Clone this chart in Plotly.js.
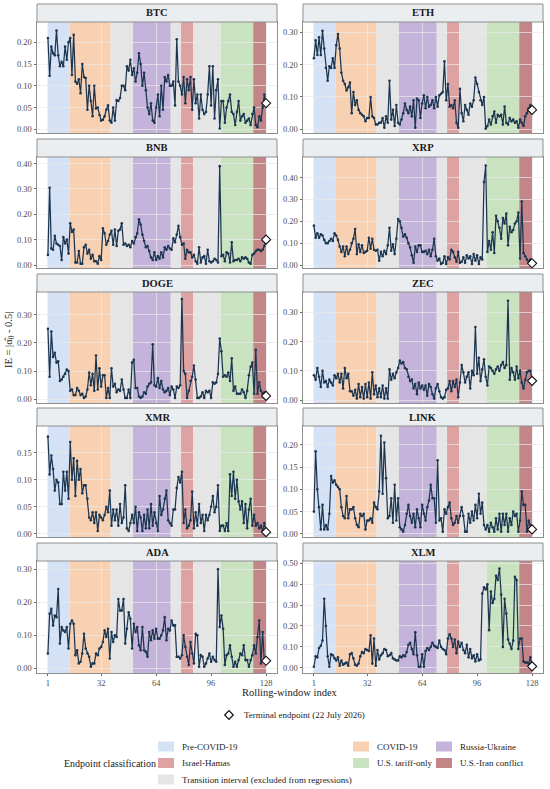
<!DOCTYPE html>
<html>
<head>
<meta charset="utf-8">
<script src="https://cdn.plot.ly/plotly-3.0.1.min.js"></script>
<style>
html,body{margin:0;padding:0;background:#ffffff;}
#chart{width:550px;height:789px;}
</style>
</head>
<body>
<div id="chart"></div>
<script>
// ---------------- DATA ----------------
const coins = ['BTC','ETH','BNB','XRP','DOGE','ZEC','XMR','LINK','ADA','XLM'];
const xTickLabels = [1, 32, 64, 96, 128];
const terminalLabel = 'Terminal endpoint (22 July 2026)';

// Endpoint-classification intervals on the rolling-window index
const regionClass = ['Pre-COVID-19','COVID-19','Transition','Russia-Ukraine','Transition','Israel-Hamas','Transition','U.S. tariff-only','U.S.-Iran conflict'];
const regionStart = [1, 13.5, 37.5, 50.5, 72.5, 78.5, 85.5, 101.5, 120.5];
const regionEnd   = [13.5, 37.5, 50.5, 72.5, 78.5, 85.5, 101.5, 120.5, 128];

const ieBTC = [
 0.21,0.123,0.19,0.175,0.17,0.227,0.17,0.145,0.155,0.145,0.19,0.16,0.20,
 0.21,0.125,0.217,0.11,0.105,0.115,0.083,0.15,0.12,0.118,0.045,0.10,0.065,0.03,0.10,0.048,0.05,0.033,0.02,0.022,0.03,0.045,0.055,0.02,
 0.015,0.05,0.02,0.067,0.065,0.072,0.10,0.10,0.09,0.145,0.135,0.16,0.125,
 0.14,0.11,0.13,0.175,0.15,0.10,0.13,0.09,0.05,0.035,0.06,0.02,0.015,0.05,0.08,0.03,0.10,0.045,0.12,0.11,0.125,0.10,
 0.10,0.11,0.055,0.207,0.11,0.10,
 0.08,0.12,0.06,0.115,0.09,0.12,0.045,
 0.115,0.06,0.08,0.025,0.08,0.045,0.035,0.04,0.08,0.145,0.055,0.145,0.025,0.09,0.115,0.002,
 0.065,0.065,0.015,0.05,0.065,0.08,0.04,0.035,0.01,0.04,0.065,0.02,0.03,0.035,0.015,0.02,0.025,0.01,0.035,
 0.05,0.01,0.005,0.03,0.02,0.05,0.08,0.06];
const ieETH = [
 0.22,0.275,0.23,0.285,0.23,0.305,0.25,0.19,0.15,0.195,0.19,0.22,0.19,
 0.26,0.295,0.25,0.175,0.15,0.14,0.12,0.13,0.145,0.05,0.115,0.075,0.09,0.06,0.05,0.045,0.04,0.025,0.035,0.035,0.10,0.04,0.035,0.015,
 0.015,0.02,0.02,0.035,0.005,0.04,0.02,0.15,0.03,0.06,0.01,0.075,0.02,
 0.015,0.03,0.05,0.08,0.06,0.05,0.07,0.04,0.09,0.005,0.095,0.09,0.035,0.08,0.105,0.065,0.10,0.07,0.075,0.09,0.065,0.10,
 0.07,0.105,0.11,0.115,0.21,0.09,
 0.14,0.07,0.075,0.065,0.09,0.02,0.005,
 0.125,0.05,0.025,0.075,0.06,0.045,0.08,0.07,0.09,0.16,0.14,0.115,0.09,0.075,0.10,0.002,
 0.01,0.03,0.015,0.04,0.055,0.02,0.045,0.04,0.045,0.015,0.07,0.02,0.015,0.035,0.025,0.03,0.02,0.025,0.005,
 0.03,0.02,0.01,0.04,0.05,0.065,0.075,0.06];
const ieBNB = [
 0.04,0.305,0.065,0.06,0.115,0.085,0.08,0.075,0.02,0.11,0.085,0.10,0.045,
 0.165,0.13,0.14,0.01,0.01,0.055,0.005,0.005,0.07,0.08,0.045,0.06,0.025,0.04,0.015,0.015,0.005,0.035,0.02,0.145,0.125,0.08,0.095,0.12,
 0.135,0.08,0.14,0.075,0.135,0.14,0.165,0.08,0.085,0.075,0.08,0.07,0.095,
 0.085,0.11,0.125,0.18,0.16,0.12,0.095,0.07,0.075,0.055,0.03,0.02,0.05,0.02,0.035,0.025,0.05,0.03,0.07,0.06,0.075,0.065,
 0.06,0.105,0.09,0.12,0.155,0.11,
 0.08,0.085,0.025,0.06,0.05,0.05,0.03,
 0.04,0.015,0.005,0.07,0.01,0.03,0.035,0.005,0.06,0.015,0.01,0.015,0.025,0.02,0.01,0.39,
 0.035,0.04,0.015,0.05,0.045,0.01,0.09,0.015,0.02,0.02,0.025,0.015,0.03,0.025,0.03,0.025,0.01,0.005,0.04,
 0.045,0.055,0.06,0.06,0.055,0.06,0.075,0.10];
const ieXRP = [
 0.18,0.125,0.145,0.125,0.14,0.135,0.115,0.10,0.10,0.11,0.12,0.11,0.145,
 0.135,0.115,0.085,0.06,0.085,0.04,0.085,0.05,0.07,0.10,0.12,0.165,0.05,0.095,0.06,0.09,0.055,0.06,0.065,0.125,0.075,0.12,0.07,0.065,
 0.07,0.02,0.06,0.04,0.065,0.05,0.09,0.17,0.065,0.095,0.05,0.12,0.21,
 0.20,0.17,0.13,0.14,0.125,0.10,0.08,0.045,0.01,0.085,0.06,0.09,0.09,0.06,0.06,0.065,0.05,0.07,0.04,0.07,0.12,0.04,
 0.02,0.03,0.005,0.01,0.04,0.005,
 0.035,0.025,0.07,0.06,0.035,0.015,0.06,
 0.01,0.015,0.035,0.01,0.045,0.03,0.04,0.005,0.05,0.02,0.045,0.005,0.035,0.025,0.38,0.455,
 0.06,0.11,0.07,0.15,0.055,0.225,0.20,0.17,0.12,0.215,0.19,0.235,0.09,0.175,0.15,0.16,0.19,0.20,0.24,
 0.03,0.29,0.055,0.04,0.025,0.015,0.025,0.008];
const ieDOGE = [
 0.25,0.08,0.24,0.15,0.165,0.13,0.135,0.065,0.07,0.08,0.09,0.105,0.10,
 0.03,0.035,0.015,0.015,0.04,0.03,0.015,0.02,0.005,0.01,0.035,0.095,0.05,0.09,0.03,0.155,0.035,0.11,0.045,0.085,0.085,0.005,0.04,0.005,
 0.11,0.045,0.055,0.025,0.035,0.03,0.07,0.035,0.005,0.005,0.035,0.005,0.13,
 0.14,0.04,0.04,0.01,0.005,0.01,0.025,0.02,0.045,0.055,0.06,0.195,0.05,0.045,0.075,0.04,0.065,0.035,0.025,0.03,0.04,0.015,
 0.045,0.035,0.005,0.045,0.04,0.05,
 0.355,0.10,0.09,0.005,0.03,0.065,0.08,
 0.12,0.07,0.005,0.005,0.01,0.025,0.005,0.03,0.025,0.03,0.005,0.06,0.055,0.06,0.09,0.215,
 0.17,0.08,0.085,0.08,0.095,0.065,0.145,0.03,0.045,0.02,0.02,0.02,0.035,0.025,0.005,0.03,0.085,0.115,0.13,
 0.02,0.175,0.02,0.06,0.03,0.02,0.025,0.012];
const ieZEC = [
 0.085,0.07,0.11,0.08,0.045,0.10,0.06,0.065,0.045,0.07,0.06,0.05,0.085,
 0.075,0.09,0.06,0.09,0.04,0.11,0.075,0.09,0.03,0.03,0.015,0.035,0.005,0.055,0.01,0.045,0.005,0.055,0.01,0.06,0.005,0.095,0.02,0.05,
 0.01,0.04,0.01,0.05,0.005,0.04,0.005,0.105,0.07,0.09,0.075,0.095,0.11,
 0.135,0.125,0.13,0.11,0.105,0.08,0.065,0.07,0.04,0.055,0.02,0.06,0.04,0.05,0.035,0.05,0.015,0.055,0.045,0.02,0.005,0.04,
 0.055,0.03,0.01,0.005,0.01,0.035,
 0.04,0.065,0.03,0.065,0.045,0.07,0.01,
 0.06,0.12,0.095,0.06,0.08,0.095,0.04,0.10,0.085,0.25,0.09,0.145,0.065,0.105,0.14,0.08,
 0.05,0.115,0.11,0.10,0.09,0.105,0.115,0.10,0.12,0.13,0.11,0.12,0.34,0.07,0.11,0.095,0.07,0.115,0.075,
 0.10,0.06,0.04,0.07,0.095,0.10,0.10,0.066];
const ieXMR = [
 0.18,0.11,0.145,0.12,0.08,0.10,0.095,0.055,0.055,0.115,0.08,0.115,0.065,
 0.17,0.10,0.14,0.07,0.135,0.10,0.12,0.075,0.09,0.09,0.065,0.03,0.025,0.04,0.02,0.04,0.005,0.035,0.03,0.025,0.035,0.05,0.04,0.08,
 0.015,0.045,0.025,0.045,0.015,0.055,0.02,0.03,0.09,0.01,0.005,0.02,0.035,
 0.02,0.05,0.005,0.04,0.03,0.005,0.035,0.01,0.045,0.01,0.055,0.015,0.04,0.02,0.005,0.07,0.035,0.045,0.065,0.08,0.025,0.02,
 0.015,0.045,0.045,0.085,0.105,0.095,
 0.115,0.02,0.045,0.01,0.015,0.025,0.078,
 0.01,0.04,0.015,0.055,0.02,0.035,0.005,0.035,0.025,0.035,0.05,0.07,0.04,0.05,0.09,0.005,
 0.015,0.015,0.005,0.02,0.005,0.11,0.07,0.115,0.065,0.10,0.06,0.045,0.06,0.02,0.055,0.01,0.045,0.065,0.015,
 0.035,0.015,0.02,0.01,0.015,0.005,0.02,0.003];
const ieLINK = [
 0.05,0.185,0.10,0.06,0.01,0.065,0.01,0.02,0.01,0.045,0.13,0.115,0.12,
 0.11,0.105,0.10,0.06,0.04,0.035,0.085,0.035,0.055,0.055,0.06,0.035,0.02,0.015,0.045,0.04,0.045,0.01,0.03,0.03,0.035,0.025,0.07,0.06,
 0.055,0.095,0.22,0.09,0.205,0.125,0.035,0.04,0.08,0.025,0.11,0.03,0.08,
 0.015,0.01,0.005,0.02,0.045,0.065,0.04,0.025,0.045,0.015,0.055,0.035,0.015,0.065,0.045,0.03,0.06,0.075,0.11,0.08,0.08,0.025,
 0.165,0.03,0.035,0.005,0.055,0.045,
 0.06,0.07,0.035,0.02,0.025,0.04,0.025,
 0.04,0.06,0.04,0.005,0.005,0.045,0.025,0.05,0.03,0.065,0.035,0.09,0.045,0.07,0.02,0.01,
 0.02,0.005,0.025,0.015,0.005,0.035,0.01,0.045,0.005,0.045,0.02,0.045,0.005,0.035,0.02,0.05,0.04,0.045,0.005,
 0.03,0.095,0.065,0.065,0.005,0.03,0.02,0.01];
const ieADA = [
 0.045,0.165,0.18,0.13,0.16,0.155,0.24,0.075,0.125,0.115,0.11,0.125,0.06,
 0.135,0.145,0.135,0.04,0.055,0.015,0.02,0.045,0.105,0.06,0.045,0.035,0.005,0.015,0.015,0.045,0.04,0.06,0.065,0.08,0.115,0.095,0.12,0.03,
 0.11,0.08,0.10,0.095,0.21,0.175,0.175,0.21,0.075,0.12,0.17,0.15,0.06,
 0.135,0.11,0.125,0.07,0.055,0.125,0.055,0.05,0.035,0.11,0.085,0.115,0.09,0.12,0.09,0.09,0.10,0.115,0.155,0.085,0.12,0.115,
 0.145,0.13,0.13,0.035,0.035,0.03,
 0.04,0.10,0.065,0.035,0.01,0.08,0.045,
 0.015,0.105,0.10,0.005,0.04,0.035,0.005,0.015,0.03,0.045,0.02,0.035,0.025,0.02,0.30,0.125,
 0.16,0.12,0.01,0.04,0.045,0.07,0.035,0.005,0.02,0.005,0.025,0.045,0.04,0.07,0.025,0.025,0.005,0.025,0.04,
 0.07,0.045,0.095,0.145,0.015,0.11,0.02,0.023];
const ieXLM = [
 0.005,0.055,0.05,0.095,0.105,0.13,0.33,0.20,0.055,0.005,0.065,0.06,0.045,
 0.035,0.05,0.01,0.035,0.015,0.02,0.025,0.01,0.065,0.07,0.045,0.015,0.01,0.02,0.055,0.075,0.07,0.09,0.085,0.08,0.155,0.02,0.14,0.01,
 0.085,0.04,0.06,0.07,0.09,0.085,0.055,0.06,0.07,0.045,0.04,0.035,0.035,
 0.055,0.05,0.06,0.055,0.075,0.11,0.12,0.09,0.065,0.17,0.06,0.005,0.005,0.065,0.005,0.08,0.095,0.085,0.10,0.12,0.105,0.10,
 0.095,0.13,0.10,0.09,0.085,0.065,
 0.14,0.16,0.14,0.10,0.135,0.07,0.125,
 0.10,0.12,0.085,0.07,0.11,0.05,0.09,0.045,0.06,0.03,0.065,0.035,0.04,0.355,0.385,0.375,
 0.40,0.18,0.365,0.31,0.33,0.44,0.42,0.475,0.35,0.10,0.33,0.26,0.135,0.115,0.09,0.13,0.435,0.42,0.09,
 0.14,0.14,0.03,0.025,0.025,0.02,0.05,0.007];

const seriesByCoin = {BTC:ieBTC, ETH:ieETH, BNB:ieBNB, XRP:ieXRP, DOGE:ieDOGE, ZEC:ieZEC, XMR:ieXMR, LINK:ieLINK, ADA:ieADA, XLM:ieXLM};

// legend entries (order as in the reference grid)
const legendItems = [
  ['Pre-COVID-19',0,0], ['COVID-19',1,0], ['Russia-Ukraine',2,0],
  ['Israel-Hamas',0,1], ['U.S. tariff-only',1,1], ['U.S.-Iran conflict',2,1],
  ['Transition interval (excluded from regressions)',0,2]
];

// ---------------- STYLE / LAYOUT ----------------
const W = 550, H = 789;
const FONT = 'Liberation Serif, Times New Roman, serif';
const classColor = {
  'Pre-COVID-19':'#D5E2F5',
  'COVID-19':'#F8D1B3',
  'Transition':'#E5E5E6',
  'Transition interval (excluded from regressions)':'#E5E5E6',
  'Russia-Ukraine':'#C4B3DB',
  'Israel-Hamas':'#DDA2A2',
  'U.S. tariff-only':'#C9E2BF',
  'U.S.-Iran conflict':'#C48589'
};
const yRange = {
  BTC:[-0.0085,0.2467], ETH:[-0.0115,0.332], BNB:[-0.0117,0.426], XRP:[-0.0136,0.494],
  DOGE:[-0.013,0.38], ZEC:[-0.01,0.37], XMR:[-0.006,0.1997], LINK:[-0.007,0.242],
  ADA:[-0.014,0.325], XLM:[-0.025,0.511]
};
const yStep = {BTC:0.05, ETH:0.1, BNB:0.1, XRP:0.1, DOGE:0.1, ZEC:0.1, XMR:0.05, LINK:0.05, ADA:0.1, XLM:0.1};
const colX = [[37,277],[303,543]];
const rowTop = [22,157,292,426,561];
const rowBot = [133,268,403,537,673];
const stripH = 18;
const lineCol = '#1C3651';

const px = v => v / W;
const py = v => 1 - v / H;

const layout = {
  width: W, height: H,
  margin: {l:0, r:0, t:0, b:0},
  paper_bgcolor: '#ffffff',
  plot_bgcolor: '#ffffff',
  showlegend: false,
  font: {family: FONT, size: 9, color: '#333333'},
  shapes: [], annotations: []
};
const traces = [];
const windowIndex = ieBTC.map((_, i) => i + 1);

coins.forEach((coin, k) => {
  const row = Math.floor(k / 2), col = k % 2;
  const xid = k === 0 ? 'x' : 'x' + (k + 1);
  const yid = k === 0 ? 'y' : 'y' + (k + 1);
  const xkey = k === 0 ? 'xaxis' : 'xaxis' + (k + 1);
  const ykey = k === 0 ? 'yaxis' : 'yaxis' + (k + 1);
  const bottom = row === 4;

  layout[xkey] = {
    domain: [px(colX[col][0]), px(colX[col][1])],
    range: [-5.35, 134.35], anchor: yid,
    tickmode: 'array', tickvals: xTickLabels, ticktext: xTickLabels.map(String),
    showticklabels: bottom, ticks: bottom ? 'outside' : '', ticklen: 2, tickcolor: '#444', tickwidth: 0.8,
    tickfont: {family: FONT, size: 8.5, color: '#4D4D4D'},
    showgrid: true, gridcolor: '#E9E9E9', gridwidth: 0.7, zeroline: false,
    showline: true, mirror: true, linecolor: '#8E8E8E', linewidth: 1, fixedrange: true
  };
  layout[ykey] = {
    domain: [py(rowBot[row]), py(rowTop[row])],
    range: yRange[coin], anchor: xid,
    tick0: 0, dtick: yStep[coin], tickformat: '.2f',
    ticks: 'outside', ticklen: 2.5, tickcolor: '#444', tickwidth: 0.8,
    tickfont: {family: FONT, size: 8.5, color: '#4D4D4D'},
    showgrid: true, gridcolor: '#E9E9E9', gridwidth: 0.7, zeroline: false,
    showline: true, mirror: true, linecolor: '#8E8E8E', linewidth: 1, fixedrange: true
  };

  regionClass.forEach((cls, r) => {
    layout.shapes.push({
      type: 'rect', xref: xid, yref: yid + ' domain',
      x0: regionStart[r], x1: regionEnd[r], y0: 0, y1: 1,
      fillcolor: classColor[cls], line: {width: 0}, layer: 'below'
    });
  });

  // facet strip
  layout.shapes.push({
    type: 'rect', xref: 'paper', yref: 'paper',
    x0: px(colX[col][0]), x1: px(colX[col][1]),
    y0: py(rowTop[row]), y1: py(rowTop[row] - stripH),
    fillcolor: '#EBEEF1', line: {color: '#8E8E8E', width: 1}, layer: 'above'
  });
  layout.annotations.push({
    xref: 'paper', yref: 'paper',
    x: px((colX[col][0] + colX[col][1]) / 2), y: py(rowTop[row] - stripH / 2),
    text: '<b>' + coin + '</b>', showarrow: false,
    xanchor: 'center', yanchor: 'middle',
    font: {family: FONT, size: 10.5, color: '#1A1A1A'}
  });

  const vals = seriesByCoin[coin];
  traces.push({
    type: 'scatter', mode: 'lines+markers', x: windowIndex, y: vals,
    xaxis: xid, yaxis: yid, hoverinfo: 'skip',
    line: {color: lineCol, width: 1.25},
    marker: {color: lineCol, size: 2.6}
  });
  traces.push({
    type: 'scatter', mode: 'markers',
    x: [windowIndex[vals.length - 1]], y: [vals[vals.length - 1]],
    xaxis: xid, yaxis: yid, hoverinfo: 'skip', cliponaxis: false,
    marker: {symbol: 'diamond', size: 7, color: '#ffffff', line: {color: '#111111', width: 1.1}}
  });
});

// axis titles
layout.annotations.push({
  xref: 'paper', yref: 'paper', x: px(290), y: py(692),
  text: 'Rolling-window index', showarrow: false, xanchor: 'center', yanchor: 'middle',
  font: {family: FONT, size: 10.5, color: '#222'}
});
layout.annotations.push({
  xref: 'paper', yref: 'paper', x: px(9), y: py(340),
  text: 'IE = |α\u0302<sub>0</sub> - 0.5|', showarrow: false, textangle: -90,
  xanchor: 'center', yanchor: 'middle',
  font: {family: FONT, size: 10.5, color: '#222'}
});

// terminal endpoint legend
(function(){
  const cx = 229, cy = 715, h = 4.3;
  layout.shapes.push({
    type: 'path', xref: 'paper', yref: 'paper',
    path: 'M ' + px(cx - h) + ',' + py(cy) + ' L ' + px(cx) + ',' + py(cy - h) +
          ' L ' + px(cx + h) + ',' + py(cy) + ' L ' + px(cx) + ',' + py(cy + h) + ' Z',
    fillcolor: '#ffffff', line: {color: '#111', width: 1.2}
  });
  layout.annotations.push({
    xref: 'paper', yref: 'paper', x: px(242), y: py(715),
    text: terminalLabel, showarrow: false, xanchor: 'left', yanchor: 'middle',
    font: {family: FONT, size: 9, color: '#222'}
  });
})();

// classification legend
layout.annotations.push({
  xref: 'paper', yref: 'paper', x: px(62), y: py(763),
  text: 'Endpoint classification', showarrow: false, xanchor: 'left', yanchor: 'middle',
  font: {family: FONT, size: 10, color: '#222'}
});
const legColX = [158, 353, 436];
const legRowY = [746.5, 763, 779.5];
legendItems.forEach(([label, c, r]) => {
  const x0 = legColX[c], yc = legRowY[r];
  layout.shapes.push({
    type: 'rect', xref: 'paper', yref: 'paper',
    x0: px(x0), x1: px(x0 + 16), y0: py(yc + 5), y1: py(yc - 5),
    fillcolor: classColor[label], line: {width: 0}
  });
  layout.annotations.push({
    xref: 'paper', yref: 'paper', x: px(x0 + 22), y: py(yc),
    text: label, showarrow: false, xanchor: 'left', yanchor: 'middle',
    font: {family: FONT, size: 9, color: '#222'}
  });
});

Plotly.newPlot('chart', traces, layout, {displayModeBar: false, staticPlot: true});
</script>
</body>
</html>
